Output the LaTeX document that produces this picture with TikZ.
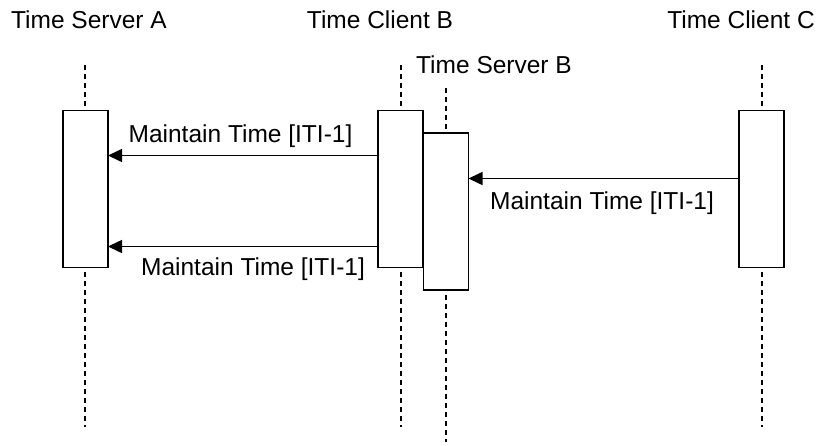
\documentclass[tikz,border=0pt]{standalone}
\usepackage{fontspec}
\setmainfont{Liberation Sans}
\usetikzlibrary{arrows.meta}
\begin{document}
\begin{tikzpicture}[x=1pt,y=-1pt,
  act/.style={draw,fill=white,line width=1.6pt,minimum width=45pt,minimum height=157pt,inner sep=0pt,outer sep=0pt},
  life/.style={line width=1.4pt,dash pattern=on 5pt off 4pt},
  msg/.style={line width=1.6pt,-{Triangle[length=14pt,width=13pt]}},
  lbl/.style={font=\fontsize{24.5}{28}\selectfont,inner sep=0pt,anchor=base}]
\useasboundingbox (0,0) rectangle (819,445);
% header labels
\node[lbl] (hA) at (89,28) {Time Server A};
\node[lbl] (hB) at (380,28) {Time Client B};
\node[lbl] (hC) at (741,28) {Time Client C};
\node[lbl] (hSB) at (494,73) {Time Server B};
% lifelines
\coordinate (aT) at (85,65);  \coordinate (aB) at (85,427);
\coordinate (bT) at (401,65); \coordinate (bB) at (401,427);
\coordinate (sT) at (446,88); \coordinate (sB) at (446,442);
\coordinate (cT) at (762,65); \coordinate (cB) at (762,427);
\draw[life] (aT) -- (aB);
\draw[life] (bT) -- (bB);
\draw[life] (sT) -- (sB);
\draw[life] (cT) -- (cB);
% activation boxes
\node[act] (a) at (85.5,189) {};
\node[act] (b) at (400.5,189) {};
\node[act] (s) at (446,211.5) {};
\node[act] (c) at (761.5,189) {};
% messages
\path (b.north west) ++(0,45) coordinate (m1);
\path (b.north west) ++(0,136) coordinate (m2);
\path (c.north west) ++(0,68) coordinate (m3);
\draw[msg] (m1) -- (m1 -| a.east);
\draw[msg] (m2) -- (m2 -| a.east);
\draw[msg] (m3) -- (m3 -| s.east);
\node[lbl] (l1) at (240.5,142) {Maintain Time [ITI-1]};
\node[lbl] (l2) at (253,275) {Maintain Time [ITI-1]};
\node[lbl] (l3) at (602,209) {Maintain Time [ITI-1]};
\end{tikzpicture}
\end{document}
